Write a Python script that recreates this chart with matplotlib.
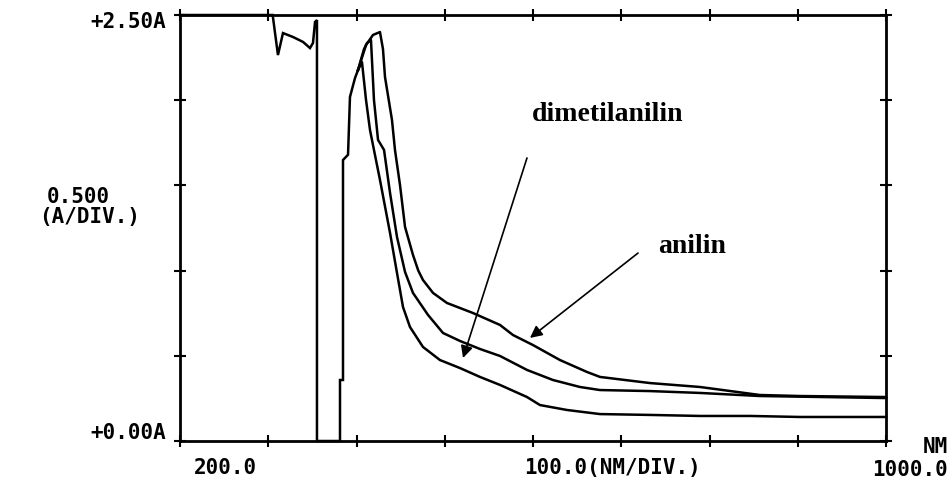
import matplotlib
matplotlib.use("Agg")
import matplotlib.pyplot as plt

# ---- data (wavelength in nm, absorbance in A) ----
lead_nm = [200, 305, 311, 316.7, 328, 339.4, 347.3, 350.7, 353, 355.2, 355.2, 381.3, 381.3, 384.7, 384.7, 390.4, 392.6, 398.3, 401.7]
lead_abs = [2.5, 2.5, 2.265, 2.394, 2.371, 2.342, 2.306, 2.336, 2.459, 2.47, 0.0, 0.0, 0.358, 0.358, 1.649, 1.68, 2.019, 2.13, 2.177]

c1_nm = [401.7, 406.2, 410.8, 415.3, 419.8, 426.6, 438.0, 445.9, 449.3, 452.7, 460.6, 475.3, 494.6, 517.3, 539.9, 562.6, 593.2, 607.9, 638.5, 675.9, 732.6, 789.2, 845.9, 902.5, 1000]
c1_abs = [2.177, 2.224, 2.001, 1.825, 1.708, 1.532, 1.221, 0.986, 0.886, 0.786, 0.669, 0.552, 0.475, 0.428, 0.376, 0.329, 0.258, 0.211, 0.182, 0.158, 0.153, 0.147, 0.147, 0.141, 0.141]

c2_nm = [401.7, 408.5, 412.0, 416.4, 419.8, 424.4, 431.2, 438.0, 445.9, 455.0, 464.0, 481.0, 498.0, 517.3, 539.9, 562.6, 593.2, 622.6, 653.2, 675.9, 732.6, 789.2, 857.0, 1000]
c2_abs = [2.177, 2.30, 2.336, 2.353, 2.001, 1.767, 1.708, 1.456, 1.197, 0.992, 0.869, 0.740, 0.634, 0.587, 0.540, 0.499, 0.417, 0.358, 0.317, 0.299, 0.293, 0.282, 0.264, 0.252]

c3_nm = [401.7, 410.8, 418.7, 426.6, 430.0, 432.3, 440.2, 443.6, 449.3, 455.0, 464.0, 470.0, 475.3, 486.7, 502.5, 532.0, 562.6, 577.3, 600.0, 630.6, 661.2, 675.9, 732.6, 789.2, 857.0, 902.5, 1000]
c3_abs = [2.177, 2.324, 2.383, 2.400, 2.30, 2.136, 1.884, 1.708, 1.502, 1.256, 1.092, 1.0, 0.945, 0.869, 0.810, 0.751, 0.681, 0.622, 0.563, 0.475, 0.405, 0.376, 0.340, 0.317, 0.270, 0.264, 0.258]

x_ticks = [200, 300, 400, 500, 600, 700, 800, 900, 1000]
y_ticks = [0.0, 0.5, 1.0, 1.5, 2.0, 2.5]

y_top_label = "+2.50A"
y_scale_label = "0.500"
y_unit_label = "(A/DIV.)"
y_bottom_label = "+0.00A"
x_left_label = "200.0"
x_mid_label = "100.0(NM/DIV.)"
x_right_label = "1000.0"
x_unit_label = "NM"

names = ["dimetilanilin", "anilin"]
name_pos = [(598.8, 1.919), (741.6, 1.139)]
arrow_tail = [(593.2, 1.661), (719.0, 1.103)]
arrow_tip = [(520.7, 0.487), (596.6, 0.605)]

# ---- figure ----
W, H = 948, 484
fig = plt.figure(figsize=(W / 100, H / 100), dpi=100)
ax = fig.add_axes([180 / W, 1 - 441 / H, (886 - 180) / W, (441 - 15) / H])

lw = 1.8
ax.plot(lead_nm, lead_abs, color="black", lw=lw, clip_on=False, solid_joinstyle="miter")
for xs, ys in [(c1_nm, c1_abs), (c2_nm, c2_abs), (c3_nm, c3_abs)]:
    ax.plot(xs, ys, color="black", lw=lw, clip_on=False)

ax.set_xlim(200, 1000)
ax.set_ylim(0, 2.5)
ax.set_xticks(x_ticks)
ax.set_yticks(y_ticks)
ax.tick_params(direction="inout", length=9, width=1.5, top=True, right=True,
               labelbottom=False, labelleft=False)
for s in ax.spines.values():
    s.set_linewidth(2)

mono = dict(family="DejaVu Sans Mono", fontweight="bold", fontsize=15, color="black")

def ftxt(x, y, s, ha="center", va="center", **kw):
    fig.text(x / W, 1 - y / H, s, ha=ha, va=va, **kw)

ftxt(166, 22, y_top_label, ha="right", **mono)
ftxt(78, 197, y_scale_label, **mono)
ftxt(90, 217, y_unit_label, **mono)
ftxt(166, 433, y_bottom_label, ha="right", **mono)
ftxt(225, 468, x_left_label, **mono)
ftxt(613, 468, x_mid_label, **mono)
ftxt(948, 470, x_right_label, ha="right", **mono)
ftxt(948, 447, x_unit_label, ha="right", **mono)

for name, pos, tail, tip in zip(names, name_pos, arrow_tail, arrow_tip):
    ax.text(pos[0], pos[1], name, ha="left", va="center",
            family="Liberation Serif", fontweight="bold", fontsize=20)
    ax.annotate("", xy=tip, xytext=tail,
                arrowprops=dict(arrowstyle="-|>", color="black", lw=1.2,
                                mutation_scale=18, shrinkA=0, shrinkB=0))

fig.savefig("out.png", dpi=100, facecolor="white")
